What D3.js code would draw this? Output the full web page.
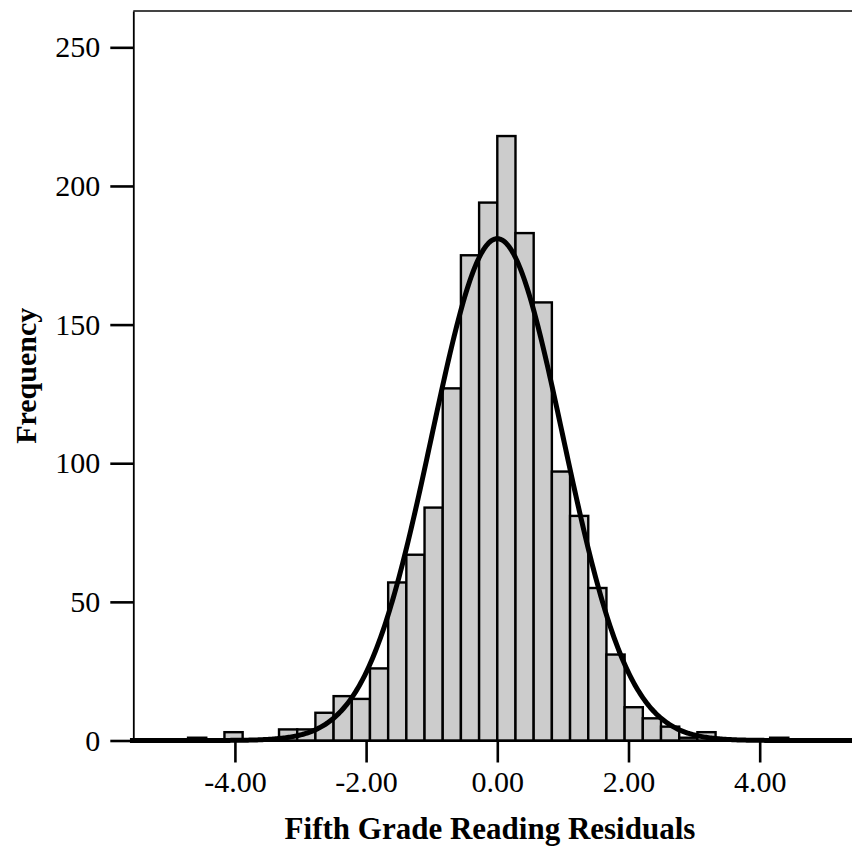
<!DOCTYPE html>
<html>
<head>
<meta charset="utf-8">
<script src="https://cdn.jsdelivr.net/npm/d3@7"></script>
<style>
  html, body { margin: 0; padding: 0; background: #fff; }
  svg { display: block; }
</style>
</head>
<body>
<svg id="chart" width="852" height="848"></svg>
<script>
// ---- data ----
const binWidth = 0.2773;
const firstBinIndex = -17;            // first bin starts at firstBinIndex * binWidth
const counts = [1, 0, 3, 0, 0, 4, 4, 10, 16, 15, 26, 57, 67, 84, 127, 175, 194,
                218, 183, 158, 97, 81, 55, 31, 12, 8, 5, 1, 3, 0, 0, 0, 1];
const xTicks = [-4, -2, 0, 2, 4];
const yTicks = [0, 50, 100, 150, 200, 250];
const fitMean = 0.0;
const fitSd = 1.0;
const xTitle = "Fifth Grade Reading Residuals";
const yTitle = "Frequency";

// ---- layout ----
const svg = d3.select("#chart");
const plotLeft = 133.3, plotRight = 861.3, plotTop = 11, plotBottom = 740.5;

const x = d3.scaleLinear().domain([-5.549, 5.549]).range([plotLeft, plotRight]);
const y = d3.scaleLinear().domain([0, 263.1]).range([plotBottom, plotTop]);

const bins = counts.map((c, i) => {
  const lo = (firstBinIndex + i) * binWidth;
  return { x0: lo, x1: lo + binWidth, count: c };
}).filter(d => d.count > 0);

const N = d3.sum(counts);

// bars
svg.append("g")
  .selectAll("rect")
  .data(bins)
  .join("rect")
  .attr("x", d => x(d.x0))
  .attr("width", d => x(d.x1) - x(d.x0))
  .attr("y", d => y(d.count))
  .attr("height", d => y(0) - y(d.count))
  .attr("fill", "#cccccc")
  .attr("stroke", "#000")
  .attr("stroke-width", 2.4);

// normal curve
const curvePts = d3.range(-5.6, 5.65, 0.02).map(v => {
  const pdf = Math.exp(-0.5 * Math.pow((v - fitMean) / fitSd, 2)) / (fitSd * Math.sqrt(2 * Math.PI));
  return [v, N * binWidth * pdf];
});
svg.append("path")
  .datum(curvePts)
  .attr("fill", "none")
  .attr("stroke", "#000")
  .attr("stroke-width", 5)
  .attr("stroke-linejoin", "round")
  .attr("d", d3.line().x(d => x(d[0])).y(d => y(d[1])));

// frame top
svg.append("line")
  .attr("x1", plotLeft).attr("x2", 852)
  .attr("y1", plotTop).attr("y2", plotTop)
  .attr("stroke", "#444").attr("stroke-width", 2);

const fmt = v => d3.format(".2f")(v).replace("\u2212", "-");

// y axis
const yAxis = svg.append("g")
  .attr("transform", `translate(${plotLeft},0)`)
  .call(d3.axisLeft(y).tickValues(yTicks).tickSize(23).tickPadding(10).tickSizeOuter(0));
yAxis.select(".domain").attr("stroke", "#000").attr("stroke-width", 1.8);
yAxis.selectAll(".tick line").attr("stroke", "#000").attr("stroke-width", 2.6);
yAxis.selectAll(".tick text")
  .attr("font-family", "'Liberation Serif', 'Times New Roman', serif")
  .attr("font-size", 30).attr("fill", "#000");

// x axis
const xAxis = svg.append("g")
  .attr("transform", `translate(0,${plotBottom})`)
  .call(d3.axisBottom(x).tickValues(xTicks).tickFormat(fmt).tickSize(22).tickPadding(8).tickSizeOuter(0));
xAxis.select(".domain").attr("stroke", "#000").attr("stroke-width", 2);
xAxis.selectAll(".tick line").attr("stroke", "#000").attr("stroke-width", 2.6);
xAxis.selectAll(".tick text")
  .attr("font-family", "'Liberation Serif', 'Times New Roman', serif")
  .attr("font-size", 30).attr("fill", "#000");

// titles
svg.append("text")
  .attr("x", 490).attr("y", 839)
  .attr("text-anchor", "middle")
  .attr("font-family", "'Liberation Serif', 'Times New Roman', serif")
  .attr("font-weight", "bold").attr("font-size", 31)
  .text(xTitle);

svg.append("text")
  .attr("transform", `translate(36,${(plotTop + plotBottom) / 2}) rotate(-90)`)
  .attr("text-anchor", "middle")
  .attr("font-family", "'Liberation Serif', 'Times New Roman', serif")
  .attr("font-weight", "bold").attr("font-size", 30)
  .text(yTitle);
</script>
</body>
</html>
